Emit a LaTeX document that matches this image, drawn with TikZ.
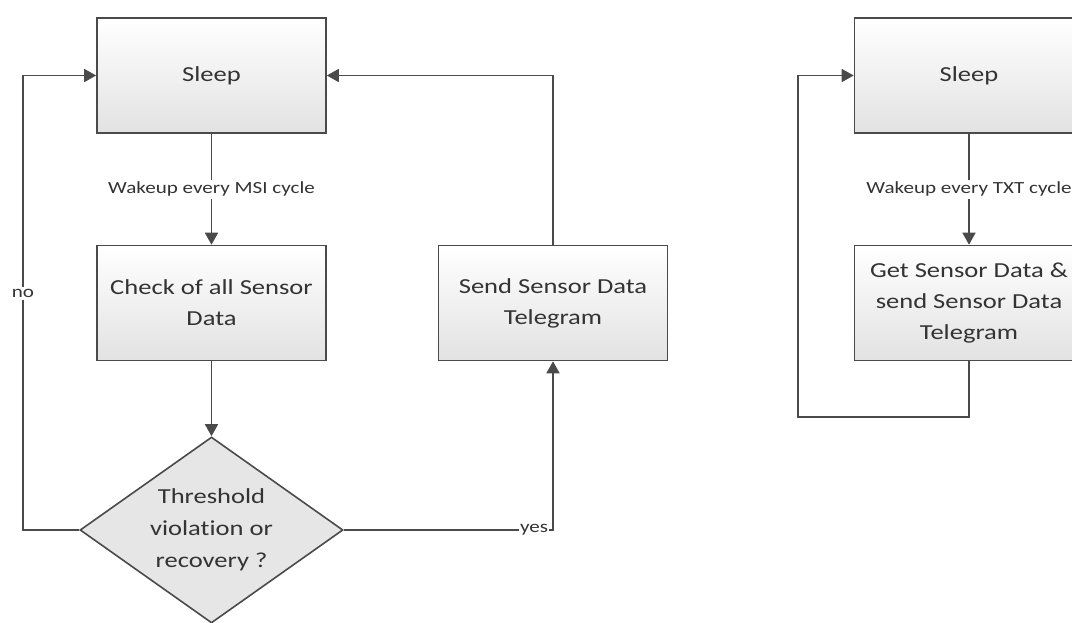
\documentclass[tikz,border=0pt]{standalone}
\usepackage{fontspec}
\usetikzlibrary{shapes.geometric,arrows.meta,positioning}
\newfontfamily\boxfont[FakeStretch=1.24,Ligatures=NoCommon]{Carlito}
\definecolor{inkline}{HTML}{4A4A4A}
\definecolor{inktext}{HTML}{333333}
\definecolor{boxlow}{HTML}{E2E2E2}
\definecolor{decfill}{HTML}{E6E6E6}
\begin{document}
\begin{tikzpicture}[x=1pt,y=-1pt,
  stepbox/.style={draw=inkline, line width=1.6pt, top color=white, bottom color=boxlow,
    minimum width=229pt, minimum height=115pt, inner sep=0pt, align=center,
    text=inktext, font=\boxfont\fontsize{21.4}{31}\selectfont},
  decision/.style={diamond, aspect=1.414, draw=inkline, line width=1.6pt, fill=decfill,
    minimum width=263pt, minimum height=186pt, inner sep=0pt, align=center,
    text=inktext, font=\boxfont\fontsize{21.4}{32}\selectfont},
  flow/.style={draw=inkline, line width=1.6pt, -{Triangle[length=12pt,width=13pt]}},
  lbl/.style={fill=white, inner sep=2pt, text=inktext, font=\boxfont\fontsize{17}{20}\selectfont}]
  \useasboundingbox (0,0) rectangle (1072,622);
  \clip (0,0) rectangle (1072,622);

  % event-driven loop
  \node[stepbox] (sleep) at (211.5,75.5) {Sleep};
  \node[stepbox] (check) at (211.5,303) {Check of all Sensor\\Data};
  \node[decision] (dec) at (211.5,530) {Threshold\\violation or\\recovery ?};
  \node[stepbox] (send) at (553,303) {Send Sensor Data\\Telegram};

  \coordinate (nocorner) at (23,530);
  \coordinate (notop) at (23,75.5);
  \coordinate (yescorner) at (send.south |- dec.east);
  \coordinate (sendtop) at (send.north |- sleep.east);

  \draw[flow] (sleep) -- node[lbl] {Wakeup every MSI cycle} (check);
  \draw[flow] (check) -- (dec);
  \draw[flow] (dec.west) -- (nocorner) -- node[lbl, pos=0.52] {no} (notop) -- (sleep.west);
  \draw[flow] (dec.east) -- node[lbl, pos=0.91, inner sep=1pt] {yes} (yescorner) -- (send.south);
  \draw[flow] (send.north) -- (sendtop) -- (sleep.east);

  % periodic loop
  \node[stepbox] (sleepb) at (969,75.5) {Sleep};
  \node[stepbox] (getb) at (969,303) {Get Sensor Data \&\\send Sensor Data\\Telegram};
  \coordinate (retlow) at (getb.south |- 0,417);
  \coordinate (retleft) at (798,417);
  \coordinate (rettop) at (798,75.5);

  \draw[flow] (sleepb) -- node[lbl] {Wakeup every TXT cycle} (getb);
  \draw[flow] (getb.south) -- (retlow) -- (retleft) -- (rettop) -- (sleepb.west);
\end{tikzpicture}
\end{document}
